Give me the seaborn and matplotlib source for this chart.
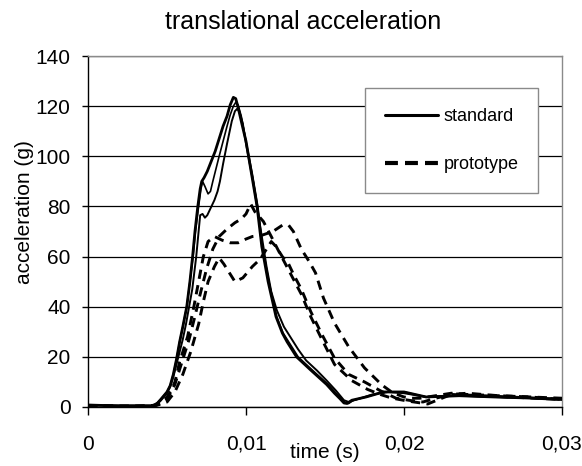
import numpy as np
import pandas as pd
import matplotlib
matplotlib.use("Agg")
import matplotlib.pyplot as plt
import seaborn as sns
from matplotlib.lines import Line2D

# ---------------- data (time in ms, acceleration in g) ----------------
std1_t = [0, 1, 2, 3, 4.0, 4.2, 4.4, 4.6, 4.8, 5.0, 5.2, 5.4, 5.6, 5.8, 6.0, 6.25, 6.45, 6.62,
          6.77, 6.95, 7.1, 7.2, 7.35, 7.55, 7.8, 8.05, 8.3, 8.55, 8.8, 9.0, 9.2, 9.35, 9.5,
          9.7, 10.0, 10.35, 10.7, 11.0, 11.4, 11.9, 12.3, 12.6, 13.2, 14.05, 15.1, 15.6,
          15.95, 16.2, 16.4, 16.7, 17.6, 18.7, 20.0, 21.4, 23.5, 25.7, 27.8, 30]
std1_a = [0.8, 0.6, 0.5, 0.5, 0.5, 0.8, 1.6, 3, 4.5, 6, 8.5, 13, 19, 26, 32, 40, 50, 60,
          70, 80, 87, 90, 91.5, 94, 98, 102, 107, 112, 116, 120.5, 123.5, 123, 119.5,
          114, 106, 93, 80, 64, 50, 36, 29.5, 26, 20, 15, 9, 5.5,
          3.3, 1.6, 1.4, 2.7, 4, 6, 6, 4, 4.5, 4, 3.6, 3]

std2_t = [0, 1, 2, 3, 4.0, 4.2, 4.4, 4.6, 4.8, 5.0, 5.2, 5.4, 5.6, 5.8, 6.0, 6.25, 6.45, 6.65,
          6.8, 7.0, 7.15, 7.25, 7.4, 7.6, 7.75, 7.9, 8.1, 8.3, 8.55, 8.8, 9.0, 9.2, 9.35,
          9.5, 9.7, 10.0, 10.4, 10.75, 11.05, 11.45, 11.95, 12.35, 12.7, 13.3, 14.15, 15.2,
          15.7, 16.05, 16.3, 16.5, 16.8, 17.6, 18.7, 20.0, 21.4, 23.5, 25.7, 27.8, 30]
std2_a = [0.8, 0.6, 0.5, 0.5, 0.5, 0.8, 1.6, 3, 4.5, 6, 8.5, 13, 19, 26, 32, 40, 50, 60,
          70, 80, 87, 90, 88, 85, 86, 90, 95, 100, 106, 112, 116.5, 120, 121.5,
          120.5, 116, 106, 93, 80, 64, 50, 36, 29.5, 26, 20, 15, 9,
          5.5, 3.3, 1.6, 1.4, 2.7, 4, 6, 6, 4, 4.5, 4, 3.6, 3]

std3_t = [0, 1, 2, 3, 4.0, 4.2, 4.4, 4.6, 4.8, 5.0, 5.2, 5.4, 5.6, 5.8, 6.0, 6.2, 6.4, 6.6,
          6.85, 7.0, 7.1, 7.25, 7.4, 7.55, 7.7, 7.85, 8.0, 8.2, 8.35, 8.55, 8.8, 9.1, 9.3,
          9.45, 9.6, 9.8, 10.0, 10.45, 10.9, 11.3, 11.6, 11.95, 12.4, 12.8, 13.3, 13.8,
          14.5, 15.1, 15.7, 16.2, 16.5, 17.0, 18.0, 19.0, 20.0, 21.4, 23.5, 25.7, 27.8, 30]
std3_a = [0.8, 0.6, 0.5, 0.5, 0.5, 0.7, 1.3, 2.5, 4, 5.5, 8, 12, 17, 22, 27, 33, 40, 47,
          60, 70, 76.5, 77, 75.5, 76.5, 78.5, 80.5, 82.5, 86, 90, 97, 105, 114, 118,
          119, 117.5, 113, 105, 90, 72, 56, 46, 38.6, 32, 28, 23, 18.6,
          14.5, 10.6, 6.5, 2.7, 2, 3, 5, 6, 5.5, 4, 4.5, 4, 3.6, 3.2]

proto1_t = [0, 1, 2, 3, 4.0, 4.3, 4.6, 5.0, 5.3, 5.5, 5.8, 6.3, 6.7, 7.0, 7.3, 7.6, 8.0, 8.5,
            9.0, 9.5, 10.0, 10.4, 11.0, 11.7, 12.3, 12.7, 13.0, 13.5, 14.0, 14.4, 14.9,
            15.6, 16.5, 17.5, 18.6, 19.3, 20.0, 20.5, 21.0, 22.0, 23.0, 24.0, 26.0, 28.0, 30.0]
proto1_a = [0.5, 0.4, 0.3, 0.3, 0.5, 0.9, 1.8, 4, 7, 10, 18, 28, 40, 50, 60, 66, 68, 66.5,
            65.5, 65.5, 67, 68, 68.5, 70, 72.5, 72.5, 70, 63, 58, 53.5, 43.5,
            33.5, 24, 15.6, 8.8, 5.6, 4, 3.5, 3.5, 4.5, 5.5, 5, 4.5, 4, 3.5]

proto2_t = [0, 1, 2, 3, 4.0, 4.3, 4.6, 5.0, 5.5, 5.9, 6.4, 6.8, 7.1, 7.5, 7.9, 8.3, 8.8, 9.3,
            9.7, 10.0, 10.3, 10.55, 11.1, 11.6, 12.0, 12.5, 13.0, 13.5, 14.1, 14.8, 15.6,
            16.7, 17.7, 18.5, 19.2, 20.2, 21.5, 22.2, 23.0, 24.0, 26.0, 28.0, 30.0]
proto2_a = [0.5, 0.4, 0.3, 0.3, 0.4, 0.7, 1.4, 3, 9, 17, 27, 37, 45, 55, 63, 68, 71, 73.5,
            75, 77, 81, 78, 74, 68, 63, 57, 51, 45, 36, 27, 17,
            10.5, 7, 5, 3.6, 2.4, 1.2, 3, 5, 5.5, 4.5, 4, 3]

proto3_t = [0, 1, 2, 3, 4.0, 4.3, 4.6, 5.0, 5.5, 6.0, 6.5, 7.0, 7.3, 7.6, 8.0, 8.3, 8.6, 8.9,
            9.3, 9.8, 10.4, 10.9, 11.3, 11.6, 11.9, 12.3, 12.7, 13.0, 13.5, 14.1, 14.8,
            15.6, 16.5, 17.5, 18.5, 19.5, 20.5, 21.2, 22.0, 23.0, 25.0, 30.0]
proto3_a = [0.5, 0.4, 0.3, 0.3, 0.4, 0.6, 1.1, 2, 6, 13, 22, 33, 42, 50, 56, 59.5, 57, 54,
            50, 51.5, 56, 59, 63, 66, 64, 60, 57, 53, 47, 38, 29,
            19.5, 13, 10, 6.5, 3.5, 2.5, 2, 3.5, 5, 4.5, 3]

series_names = ["standard", "standard", "standard", "prototype", "prototype", "prototype"]
x_ticks = [0, 0.01, 0.02, 0.03]
x_tick_labels = ["0", "0,01", "0,02", "0,03"]
y_ticks = [0, 20, 40, 60, 80, 100, 120, 140]
title_text = "translational acceleration"
x_label = "time (s)"
y_label = "acceleration (g)"

# ---------------- styling ----------------
sns.set_theme(style="white")
plt.rcParams["font.family"] = ["Liberation Sans", "DejaVu Sans"]
plt.rcParams["text.color"] = "black"
plt.rcParams["axes.labelcolor"] = "black"
plt.rcParams["xtick.color"] = "black"
plt.rcParams["ytick.color"] = "black"

W, H = 582, 466
fig = plt.figure(figsize=(W / 100, H / 100), dpi=100)
ax = fig.add_axes([88 / W, 1 - 407 / H, 474 / W, 351 / H])

runs = [(std1_t, std1_a, "s1"), (std2_t, std2_a, "s2"), (std3_t, std3_a, "s3"),
        (proto1_t, proto1_a, "p1"), (proto2_t, proto2_a, "p2"), (proto3_t, proto3_a, "p3")]
frames = []
for (t, a, rid), design in zip(runs, series_names):
    frames.append(pd.DataFrame({"time": np.array(t) / 1000.0, "accel": a,
                                "run": rid, "design": design}))
df = pd.concat(frames, ignore_index=True)

dash = (0, (3.2, 2.2))
line_styles = {
    "s1": dict(lw=2.0, linestyle="-"),
    "s2": dict(lw=1.2, linestyle="-"),
    "s3": dict(lw=1.4, linestyle="-"),
    "p1": dict(lw=2.1, linestyle=dash),
    "p2": dict(lw=2.1, linestyle=dash),
    "p3": dict(lw=2.1, linestyle=dash),
}
for rid, sub in df.groupby("run", sort=False):
    sns.lineplot(data=sub, x="time", y="accel", ax=ax, color="black",
                 errorbar=None, legend=False, zorder=3, **line_styles[rid])

ax.set_xlim(0, 0.03)
ax.set_ylim(0, 140)
ax.set_xticks(x_ticks)
ax.set_xticklabels(x_tick_labels)
ax.set_yticks(y_ticks)
ax.set_yticklabels([str(v) for v in y_ticks])

ax.set_axisbelow(True)
ax.yaxis.grid(True, color="black", lw=0.9)
ax.xaxis.grid(False)

for side in ["left", "bottom"]:
    ax.spines[side].set_color("black")
    ax.spines[side].set_linewidth(1.0)
for side in ["right", "top"]:
    ax.spines[side].set_color("#8a8a8a")
    ax.spines[side].set_linewidth(1.0)
    ax.spines[side].set_visible(True)

ax.tick_params(axis="x", direction="out", length=6, width=1, color="black",
               labelcolor="black", labelsize=15, pad=14, bottom=True)
ax.tick_params(axis="y", direction="out", length=4.5, width=1, color="black",
               labelcolor="black", labelsize=15, pad=8, left=True)

ax.set_xlabel(x_label, fontsize=15, color="black")
ax.xaxis.label.set_va("center")
ax.xaxis.set_label_coords((325 - 88) / 474, (407 - 452) / 351)
ax.set_ylabel(y_label, fontsize=15, color="black")
ax.yaxis.label.set_va("center")
ax.yaxis.set_label_coords((24 - 88) / 474, (407 - 212) / 351)

ax.set_title(title_text, fontsize=18, x=(303 - 88) / 474, y=(407 - 22) / 351,
             va="center", pad=0, color="black")

handles = [Line2D([], [], color="black", lw=2.2, linestyle="-"),
           Line2D([], [], color="black", lw=3.0, linestyle=(0, (3.1, 1.7)))]
leg = ax.legend(handles, ["standard", "prototype"], loc="upper left",
                bbox_to_anchor=((365 - 88) / 474, (407 - 88) / 351),
                borderaxespad=0, fontsize=13, frameon=True, fancybox=False,
                framealpha=1, edgecolor="#8a8a8a", borderpad=1.1,
                labelspacing=1.75, handlelength=2.95, handletextpad=0.3,
                labelcolor="black")
leg.get_frame().set_linewidth(1.0)

fig.savefig("out.png", dpi=100)
